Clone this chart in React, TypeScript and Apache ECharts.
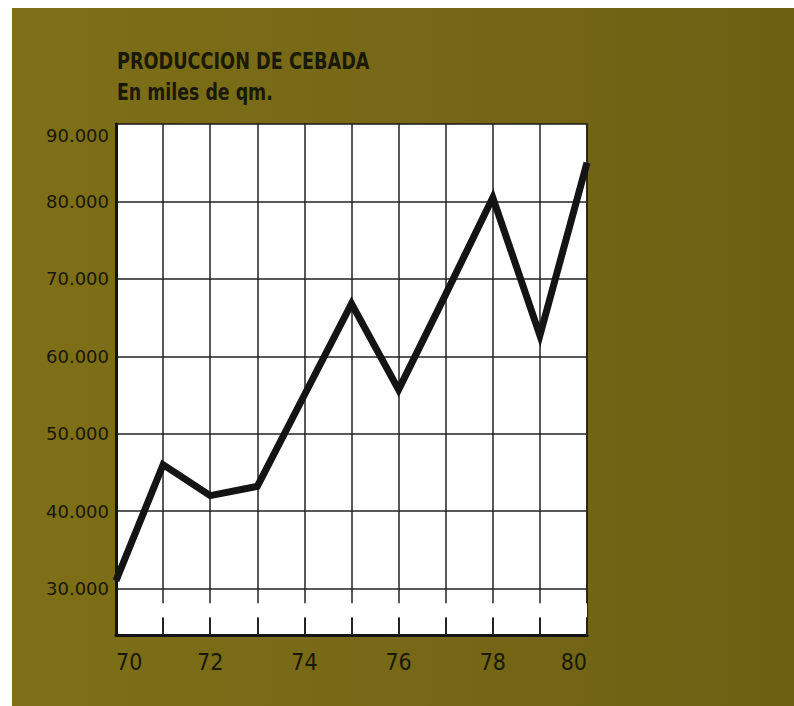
import React, { useEffect, useRef } from "react";
import * as echarts from "echarts";

const years = ["70", "71", "72", "73", "74", "75", "76", "77", "78", "79", "80"];
const produccion = [31000, 46000, 42000, 43200, 55000, 66800, 55700, 68000, 80500, 62700, 85000];
const gridValues = [30000, 40000, 50000, 60000, 70000, 80000];
const titleText = "PRODUCCION DE CEBADA";
const subText = "En miles de qm.";

const INK = "#1a1806";
const NARROW = "'Liberation Sans Narrow', 'DejaVu Sans Condensed', 'Arial Narrow', sans-serif";

export default function App() {
  const ref = useRef<HTMLDivElement>(null);
  useEffect(() => {
    if (!ref.current) return;
    const chart = echarts.init(ref.current, null, { renderer: "svg" });
    chart.setOption({
      animation: false,
      backgroundColor: "transparent",
      graphic: [
        {
          type: "text",
          x: 105,
          y: 53,
          scaleX: 0.855,
          style: {
            text: titleText,
            fontFamily: NARROW,
            fontWeight: "bold",
            fontSize: 23,
            fill: INK,
            verticalAlign: "middle",
          },
        },
        {
          type: "text",
          x: 105,
          y: 84,
          scaleX: 0.84,
          style: {
            text: subText,
            fontFamily: NARROW,
            fontWeight: "bold",
            fontSize: 23,
            fill: INK,
            verticalAlign: "middle",
          },
        },
      ],
      grid: {
        left: 104,
        top: 116,
        right: 207,
        bottom: 71,
        show: true,
        backgroundColor: "#ffffff",
        borderColor: "#1a1a1a",
        borderWidth: 1.5,
      },
      xAxis: {
        type: "category",
        data: years,
        boundaryGap: false,
        axisLine: { lineStyle: { color: "#141414", width: 3 } },
        axisTick: { show: true, inside: true, length: 17, interval: 0, lineStyle: { color: "#222", width: 2 } },
        splitLine: { show: true, interval: 0, lineStyle: { color: "#222", width: 1.5 } },
        axisLabel: {
          interval: 1,
          margin: 15,
          fontFamily: NARROW,
          fontSize: 23,
          color: INK,
          alignMinLabel: "left",
          alignMaxLabel: "right",
        },
      },
      yAxis: {
        type: "value",
        min: 24000,
        max: 90000,
        interval: 2000,
        z: 6,
        axisLine: { show: true, lineStyle: { color: "#141414", width: 3 } },
        axisTick: { show: false },
        splitLine: { show: false },
        axisLabel: {
          margin: 7,
          fontFamily: "'DejaVu Sans', sans-serif",
          fontSize: 18,
          color: INK,
          formatter: (v: number) => {
            if (v % 10000 !== 0) return "";
            const s = `${v / 1000}.000`;
            return v === 90000 ? `{top|${s}}` : s;
          },
          rich: {
            top: {
              fontFamily: "'DejaVu Sans', sans-serif",
              fontSize: 18,
              color: INK,
              padding: [22, 0, 0, 0],
            },
          },
        },
      },
      series: [
        {
          type: "line",
          data: [],
          silent: true,
          markLine: {
            silent: true,
            symbol: "none",
            label: { show: false },
            lineStyle: { color: "#222", width: 1.5, type: "solid" },
            data: gridValues.map((v) => ({ yAxis: v })),
          },
          markArea: {
            silent: true,
            itemStyle: { color: "#ffffff" },
            data: [[{ yAxis: 26300 }, { yAxis: 28100 }]],
          },
        },
        {
          type: "line",
          data: produccion,
          z: 5,
          symbol: "none",
          lineStyle: { color: "#141414", width: 7, join: "miter", cap: "butt" },
        },
      ],
    });
    return () => chart.dispose();
  }, []);
  return (
    <div style={{ position: "fixed", left: 0, top: 0, width: 794, height: 706, background: "#ffffff" }}>
      <div
        style={{
          position: "absolute",
          left: 12,
          top: 8,
          width: 782,
          height: 698,
          background: "linear-gradient(90deg, #7e6f18 0%, #766816 50%, #6d6013 100%)",
        }}
      >
        <div ref={ref} style={{ width: 782, height: 698 }} />
      </div>
    </div>
  );
}
